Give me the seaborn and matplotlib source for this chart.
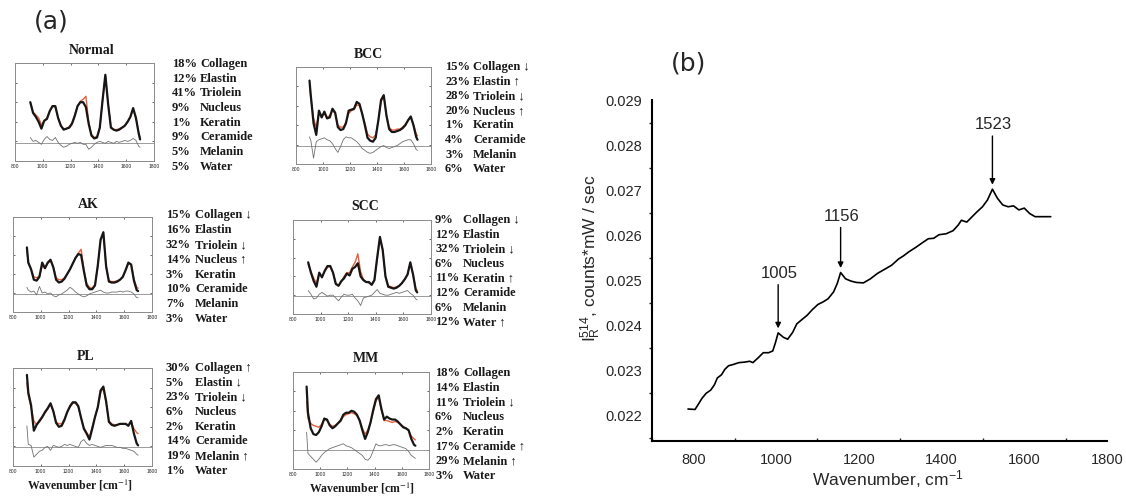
import matplotlib
matplotlib.use("Agg")
import numpy as np
import matplotlib.pyplot as plt
from matplotlib.ticker import FormatStrFormatter, MultipleLocator
import seaborn as sns

# ---------------------------------------------------------------- panel (a)
components = ["Collagen", "Elastin", "Triolein", "Nucleus",
              "Keratin", "Ceramide", "Melanin", "Water"]
tissues = ["Normal", "BCC", "AK", "SCC", "PL", "MM"]

pct_normal = [18, 12, 41, 9, 1, 9, 5, 5]
pct_bcc = [15, 23, 28, 20, 1, 4, 3, 6]
pct_ak = [15, 16, 32, 14, 3, 10, 7, 3]
pct_scc = [9, 12, 32, 6, 11, 12, 6, 12]
pct_pl = [30, 5, 23, 6, 2, 14, 19, 1]
pct_mm = [18, 14, 11, 6, 2, 17, 29, 3]

trend_normal = ["", "", "", "", "", "", "", ""]
trend_bcc = ["↓", "↑", "↓", "↑", "", "", "", ""]
trend_ak = ["↓", "", "↓", "↑", "", "", "", ""]
trend_scc = ["↓", "", "↓", "", "↑", "", "", "↑"]
trend_pl = ["↑", "↓", "↓", "", "", "", "↑", ""]
trend_mm = ["", "", "↓", "", "", "↑", "↑", ""]

# shared wavenumber grid of the small spectra (cm^-1)
wn_a = [900, 910, 930, 950, 970, 990, 1010, 1030, 1050, 1070, 1090,
        1110, 1130, 1150, 1170, 1190, 1210, 1230, 1250, 1270, 1290,
        1310, 1330, 1350, 1370, 1390, 1410, 1430, 1450, 1470, 1490,
        1510, 1530, 1550, 1570, 1590, 1610, 1630, 1650, 1670, 1690, 1700]

# measured spectra (normalised units)
meas_normal = [None, 0.60, 0.49, 0.45, 0.40, 0.33, 0.41, 0.43, 0.51, 0.56, 0.56,
               0.44, 0.36, 0.32, 0.33, 0.34, 0.38, 0.46, 0.56, 0.60, 0.60,
               0.55, 0.38, 0.26, 0.23, 0.24, 0.34, 0.62, 0.88, 0.58, 0.34,
               0.32, 0.31, 0.32, 0.34, 0.36, 0.40, 0.45, 0.54, 0.44, 0.28, 0.22]
meas_bcc = [0.86, 0.70, 0.42, 0.30, 0.55, 0.48, 0.54, 0.47, 0.48, 0.57, 0.53,
            0.38, 0.35, 0.36, 0.42, 0.55, 0.56, 0.57, 0.64, 0.62, 0.52,
            0.40, 0.27, 0.24, 0.23, 0.27, 0.45, 0.66, 0.71, 0.50, 0.36,
            0.33, 0.33, 0.34, 0.35, 0.37, 0.40, 0.45, 0.49, 0.40, 0.28, 0.25]
meas_ak = [0.68, 0.52, 0.45, 0.34, 0.33, 0.37, 0.52, 0.46, 0.52, 0.55, 0.47,
           0.34, 0.31, 0.32, 0.35, 0.40, 0.45, 0.51, 0.57, 0.61, 0.60,
           0.43, 0.28, 0.24, 0.24, 0.28, 0.49, 0.76, 0.84, 0.48, 0.32,
           0.31, 0.31, 0.32, 0.34, 0.37, 0.44, 0.52, 0.50, 0.33, 0.23, 0.22]
meas_scc = [None, 0.55, 0.44, 0.35, 0.29, 0.44, 0.39, 0.46, 0.51, 0.51, 0.44,
            0.32, 0.30, 0.35, 0.38, 0.43, 0.41, 0.48, 0.50, 0.54, 0.40,
            0.36, 0.34, 0.34, 0.31, 0.36, 0.60, 0.82, 0.68, 0.40, 0.29,
            0.28, 0.27, 0.28, 0.30, 0.33, 0.37, 0.42, 0.55, 0.42, 0.25, 0.23]
meas_pl = [0.93, 0.75, 0.62, 0.36, 0.42, 0.46, 0.50, 0.55, 0.59, 0.64, 0.56,
           0.44, 0.40, 0.41, 0.47, 0.55, 0.61, 0.65, 0.65, 0.61, 0.49,
           0.38, 0.33, 0.27, 0.38, 0.50, 0.60, 0.77, 0.81, 0.66, 0.45,
           0.42, 0.41, 0.42, 0.43, 0.43, 0.43, 0.41, 0.46, 0.33, 0.23, 0.21]
meas_mm = [0.85, 0.58, 0.42, 0.36, 0.35, 0.38, 0.44, 0.52, 0.51, 0.45, 0.42,
           0.44, 0.47, 0.50, 0.56, 0.58, 0.58, 0.60, 0.59, 0.56, 0.50,
           0.40, 0.31, 0.38, 0.48, 0.61, 0.72, 0.76, 0.62, 0.51, 0.54,
           0.52, 0.51, 0.51, 0.49, 0.46, 0.43, 0.42, 0.40, 0.31, 0.25, 0.24]

# model fits
fit_normal = [None, 0.60, 0.50, 0.47, 0.44, 0.37, 0.41, 0.44, 0.51, 0.56, 0.55,
              0.44, 0.36, 0.33, 0.33, 0.35, 0.39, 0.47, 0.56, 0.61, 0.63,
              0.66, 0.40, 0.27, 0.24, 0.25, 0.34, 0.62, 0.87, 0.59, 0.35,
              0.32, 0.32, 0.33, 0.34, 0.36, 0.40, 0.45, 0.53, 0.44, 0.29, 0.24]
fit_bcc = [0.80, 0.68, 0.47, 0.38, 0.52, 0.50, 0.52, 0.48, 0.50, 0.55, 0.52,
           0.40, 0.38, 0.38, 0.43, 0.52, 0.55, 0.56, 0.61, 0.60, 0.52,
           0.42, 0.31, 0.28, 0.27, 0.30, 0.45, 0.64, 0.70, 0.50, 0.38,
           0.35, 0.35, 0.36, 0.36, 0.38, 0.41, 0.45, 0.48, 0.41, 0.31, 0.29]
fit_ak = [0.64, 0.52, 0.45, 0.37, 0.36, 0.38, 0.48, 0.47, 0.51, 0.54, 0.48,
          0.36, 0.34, 0.34, 0.36, 0.40, 0.45, 0.51, 0.57, 0.62, 0.66,
          0.45, 0.30, 0.26, 0.25, 0.29, 0.48, 0.75, 0.83, 0.47, 0.33,
          0.32, 0.32, 0.33, 0.34, 0.37, 0.44, 0.51, 0.50, 0.35, 0.26, 0.25]
fit_scc = [None, 0.53, 0.45, 0.38, 0.33, 0.42, 0.40, 0.45, 0.50, 0.50, 0.44,
           0.33, 0.30, 0.34, 0.40, 0.44, 0.44, 0.50, 0.55, 0.64, 0.45,
           0.37, 0.34, 0.33, 0.32, 0.36, 0.58, 0.80, 0.69, 0.40, 0.30,
           0.29, 0.28, 0.29, 0.30, 0.33, 0.37, 0.42, 0.54, 0.42, 0.27, 0.25]
fit_pl = [0.85, 0.72, 0.60, 0.46, 0.42, 0.45, 0.49, 0.54, 0.58, 0.63, 0.56,
          0.45, 0.43, 0.43, 0.48, 0.55, 0.60, 0.64, 0.64, 0.60, 0.49,
          0.39, 0.34, 0.30, 0.40, 0.50, 0.60, 0.75, 0.79, 0.64, 0.46,
          0.43, 0.42, 0.42, 0.43, 0.43, 0.43, 0.42, 0.45, 0.38, 0.34, 0.33]
fit_mm = [0.70, 0.52, 0.47, 0.45, 0.44, 0.43, 0.46, 0.51, 0.50, 0.46, 0.44,
          0.45, 0.47, 0.49, 0.54, 0.56, 0.57, 0.58, 0.57, 0.55, 0.50,
          0.42, 0.36, 0.40, 0.48, 0.59, 0.70, 0.74, 0.61, 0.50, 0.50,
          0.49, 0.48, 0.49, 0.48, 0.46, 0.44, 0.42, 0.40, 0.34, 0.31, 0.30]

# residuals, drawn around their own zero line
resid_normal = [None, 0.24, 0.20, 0.21, 0.19, 0.17, 0.22, 0.25, 0.22, 0.21, 0.24,
                0.19, 0.16, 0.14, 0.15, 0.17, 0.18, 0.19, 0.18, 0.19, 0.17,
                0.17, 0.12, 0.14, 0.17, 0.19, 0.20, 0.19, 0.18, 0.20, 0.19,
                0.18, 0.20, 0.19, 0.20, 0.21, 0.20, 0.21, 0.23, 0.21, 0.15, 0.14]
resid_bcc = [0.28, 0.24, 0.06, 0.23, 0.25, 0.26, 0.27, 0.25, 0.24, 0.21, 0.16,
             0.12, 0.18, 0.25, 0.28, 0.27, 0.27, 0.25, 0.23, 0.20, 0.16,
             0.14, 0.12, 0.11, 0.12, 0.14, 0.16, 0.18, 0.19, 0.17, 0.16,
             0.17, 0.18, 0.19, 0.21, 0.23, 0.24, 0.25, 0.25, 0.21, 0.15, 0.14]
resid_ak = [0.26, 0.23, 0.21, 0.22, 0.18, 0.27, 0.20, 0.21, 0.19, 0.20, 0.17,
            0.16, 0.18, 0.19, 0.21, 0.23, 0.26, 0.24, 0.21, 0.19, 0.17,
            0.16, 0.17, 0.19, 0.20, 0.21, 0.22, 0.23, 0.21, 0.20, 0.20,
            0.21, 0.21, 0.21, 0.22, 0.21, 0.22, 0.22, 0.21, 0.19, 0.15, 0.15]
resid_scc = [None, 0.25, 0.21, 0.16, 0.17, 0.21, 0.23, 0.21, 0.19, 0.20, 0.20,
             0.17, 0.14, 0.18, 0.21, 0.20, 0.20, 0.21, 0.17, 0.14, 0.09,
             0.17, 0.18, 0.19, 0.20, 0.23, 0.26, 0.22, 0.21, 0.20, 0.20,
             0.21, 0.22, 0.23, 0.22, 0.23, 0.24, 0.25, 0.22, 0.20, 0.16, 0.15]
resid_pl = [0.41, 0.22, 0.21, 0.09, 0.12, 0.15, 0.16, 0.19, 0.20, 0.16, 0.21,
            0.20, 0.19, 0.20, 0.22, 0.21, 0.22, 0.21, 0.20, 0.19, 0.25,
            0.27, 0.23, 0.21, 0.22, 0.21, 0.20, 0.19, 0.20, 0.21, 0.21,
            0.21, 0.20, 0.19, 0.19, 0.18, 0.18, 0.17, 0.16, 0.15, 0.12, 0.11]
resid_mm = [0.38, 0.16, 0.13, 0.10, 0.07, 0.10, 0.14, 0.17, 0.19, 0.21, 0.22,
            0.23, 0.24, 0.25, 0.26, 0.24, 0.23, 0.22, 0.20, 0.18, 0.16,
            0.14, 0.10, 0.09, 0.12, 0.19, 0.26, 0.24, 0.24, 0.25, 0.25,
            0.24, 0.25, 0.25, 0.24, 0.23, 0.22, 0.21, 0.18, 0.14, 0.12, 0.11]
resid_zero = [0.184, 0.19, 0.19, 0.19, 0.19, 0.20]

# ---------------------------------------------------------------- panel (b)
wn_b = [787, 804, 811, 821, 831, 842, 851, 858, 868, 876, 885, 897, 910,
        923, 936, 944, 957, 969, 982, 992, 998, 1005, 1018, 1028, 1040,
        1050, 1063, 1075, 1088, 1101, 1114, 1126, 1139, 1148, 1156, 1168,
        1181, 1194, 1211, 1228, 1245, 1262, 1279, 1296, 1308, 1321, 1338,
        1355, 1368, 1381, 1394, 1411, 1428, 1440, 1448, 1461, 1474, 1486,
        1499, 1511, 1523, 1535, 1548, 1561, 1574, 1587, 1600, 1613, 1626,
        1640, 1664]
int_b = [0.02214, 0.02213, 0.02223, 0.02238, 0.02249, 0.02256, 0.02268,
         0.02283, 0.02290, 0.02302, 0.02310, 0.02313, 0.02317, 0.02318,
         0.02320, 0.02317, 0.02328, 0.02339, 0.02339, 0.02343, 0.02360,
         0.02383, 0.02373, 0.02369, 0.02384, 0.02403, 0.02413, 0.02422,
         0.02435, 0.02446, 0.02452, 0.02459, 0.02474, 0.02493, 0.02517,
         0.02503, 0.02498, 0.02495, 0.02494, 0.02503, 0.02515, 0.02524,
         0.02533, 0.02547, 0.02554, 0.02563, 0.02573, 0.02584, 0.02592,
         0.02593, 0.02601, 0.02603, 0.02610, 0.02622, 0.02633, 0.02629,
         0.02641, 0.02652, 0.02663, 0.02678, 0.02702, 0.02682, 0.02667,
         0.02663, 0.02665, 0.02656, 0.02660, 0.02648, 0.02641, 0.02641,
         0.02641]
peak_labels = [1005, 1156, 1523]

# ---------------------------------------------------------------- styling
sns.set_style("white")
plt.rcParams["font.family"] = ["Liberation Sans", "DejaVu Sans"]
plt.rcParams["mathtext.fontset"] = "custom"
plt.rcParams["mathtext.rm"] = "Liberation Sans"
plt.rcParams["mathtext.it"] = "Liberation Sans:italic"
SERIF = ["Liberation Serif", "DejaVu Serif"]

W, H = 1126, 497
fig = plt.figure(figsize=(W / 100, H / 100), dpi=100)
fig.patch.set_facecolor("white")


def px_axes(l, t, r, b):
    return fig.add_axes([l / W, 1 - b / H, (r - l) / W, (b - t) / H])


def px_text(x, y, s, **kw):
    return fig.text(x / W, 1 - y / H, s, **kw)


def series(wn, vals):
    pts = [(w, v) for w, v in zip(wn, vals) if v is not None]
    return np.array([p[0] for p in pts]), np.array([p[1] for p in pts])


panels = [
    dict(meas=meas_normal, fit=fit_normal, resid=resid_normal, pct=pct_normal,
         trend=trend_normal, box=(15, 63, 154, 161), title=(92, 51),
         lst=(172, 200, 64, 14.7)),
    dict(meas=meas_bcc, fit=fit_bcc, resid=resid_bcc, pct=pct_bcc,
         trend=trend_bcc, box=(296, 67, 431, 164), title=(368, 55),
         lst=(445, 473, 67, 14.6)),
    dict(meas=meas_ak, fit=fit_ak, resid=resid_ak, pct=pct_ak,
         trend=trend_ak, box=(13, 217, 152, 312), title=(88, 205),
         lst=(166, 195, 215, 14.9)),
    dict(meas=meas_scc, fit=fit_scc, resid=resid_scc, pct=pct_scc,
         trend=trend_scc, box=(293, 220, 431, 314), title=(365, 207),
         lst=(435, 463, 220, 14.6)),
    dict(meas=meas_pl, fit=fit_pl, resid=resid_pl, pct=pct_pl,
         trend=trend_pl, box=(13, 368, 152, 466), title=(86, 357),
         lst=(166, 195, 368, 14.7)),
    dict(meas=meas_mm, fit=fit_mm, resid=resid_mm, pct=pct_mm,
         trend=trend_mm, box=(293, 372, 429, 469), title=(366, 358),
         lst=(435, 463, 373, 14.75)),
]

for name, p, zero in zip(tissues, panels, resid_zero):
    ax = px_axes(*p["box"])
    ax.axhline(zero, color="#8c8c8c", lw=0.6, zorder=1)
    x, y = series(wn_a, p["resid"])
    sns.lineplot(x=x, y=y, ax=ax, color="#707070", lw=0.6,
                 estimator=None, sort=False)
    x, y = series(wn_a, p["fit"])
    sns.lineplot(x=x, y=y, ax=ax, color="#e5603e", lw=1.0,
                 estimator=None, sort=False)
    x, y = series(wn_a, p["meas"])
    sns.lineplot(x=x, y=y, ax=ax, color="#161616", lw=1.6,
                 estimator=None, sort=False)
    ax.set_xlim(800, 1800)
    ax.set_ylim(0, 1)
    ax.set_xlabel("")
    ax.set_ylabel("")
    ax.set_xticks([800, 1000, 1200, 1400, 1600, 1800])
    ax.set_xticklabels(["800", "1000", "1200", "1400", "1600", "1800"])
    ax.set_yticks([0.2, 0.4, 0.6, 0.8])
    ax.set_yticklabels([])
    ax.tick_params(axis="x", direction="in", length=1.5, width=0.5,
                   pad=2.5, labelsize=3.6, colors="#333333",
                   top=True, bottom=True)
    ax.tick_params(axis="y", direction="in", length=1.5, width=0.5,
                   left=True, right=True)
    for s in ax.spines.values():
        s.set_color("#8a8a8a")
        s.set_linewidth(0.7)
    for lab in ax.get_xticklabels():
        lab.set_color("#222222")

    tx, ty = p["title"]
    px_text(tx, ty, name, ha="center", va="center", family=SERIF,
            fontsize=10, fontweight="bold", color="#1a1a1a")

    xp, xn, y0, dy = p["lst"]
    for i, (comp, val, tr) in enumerate(zip(components, p["pct"], p["trend"])):
        yy = y0 + i * dy
        px_text(xp, yy, f"{val}%", ha="left", va="center", family=SERIF,
                fontsize=9, fontweight="bold", color="#1a1a1a")
        label = comp + (" " + tr if tr else "")
        px_text(xn, yy, label, ha="left", va="center", family=SERIF,
                fontsize=9, fontweight="bold", color="#1a1a1a")

for cx, cy in [(80, 485), (362, 488)]:
    px_text(cx, cy, "Wavenumber [cm$^{-1}$]", ha="center", va="center",
            family=SERIF, fontsize=8.5, fontweight="bold", color="#1a1a1a",
            math_fontfamily="stix")

px_text(51, 22, "(a)", ha="center", va="center", family="DejaVu Sans",
        fontsize=18)

# ---------------------------------------------------------------- panel (b) axes
axb = px_axes(652, 100, 1107, 441)
sns.lineplot(x=wn_b, y=int_b, ax=axb, color="black", lw=1.2,
             estimator=None, sort=False)
axb.set_xlim(700, 1800)
axb.set_ylim(0.02143, 0.029)
axb.set_xlabel("")
axb.set_ylabel("")
for side in ("top", "right"):
    axb.spines[side].set_visible(False)
for side in ("left", "bottom"):
    axb.spines[side].set_linewidth(1.5)
    axb.spines[side].set_color("black")
axb.set_xticks([800, 1000, 1200, 1400, 1600, 1800])
axb.xaxis.set_minor_locator(MultipleLocator(100))
axb.set_yticks([0.022, 0.023, 0.024, 0.025, 0.026, 0.027, 0.028, 0.029])
axb.yaxis.set_minor_locator(MultipleLocator(0.0005))
axb.yaxis.set_major_formatter(FormatStrFormatter("%.3f"))
axb.tick_params(axis="x", which="major", direction="out", length=3.5,
                width=1.2, labelsize=10.5, pad=5)
axb.tick_params(axis="x", which="minor", direction="in", length=2.5,
                width=1.0, bottom=True)
axb.tick_params(axis="y", which="major", direction="out", length=5,
                width=1.2, labelsize=10.5, pad=2)
axb.tick_params(axis="y", which="minor", direction="out", length=2.5,
                width=1.0, left=True)

wn_arr = np.array(wn_b)
int_arr = np.array(int_b)
for pk, text_dy in zip(peak_labels, [0.00132, 0.00125, 0.00143]):
    yv = int_arr[np.argmin(np.abs(wn_arr - pk))]
    axb.annotate("", xy=(pk, yv + 0.0001), xytext=(pk, yv + text_dy - 0.00025),
                 arrowprops=dict(arrowstyle="-|>", color="black", lw=1.0,
                                 mutation_scale=8, shrinkA=0, shrinkB=0))
    axb.text(pk + 3, yv + text_dy, str(pk), ha="center", va="center",
             fontsize=12)

px_text(888, 479, "Wavenumber, cm$^{-1}$", ha="center", va="center",
        fontsize=12.5)
px_text(591, 258, r"$\mathrm{I}_\mathrm{R}^{514}$, counts*mW / sec",
        ha="center", va="center", rotation=90, fontsize=12.5)
px_text(689, 63, "(b)", ha="center", va="center", family="DejaVu Sans",
        fontsize=18)

fig.savefig("out.png", dpi=100, facecolor="white")
